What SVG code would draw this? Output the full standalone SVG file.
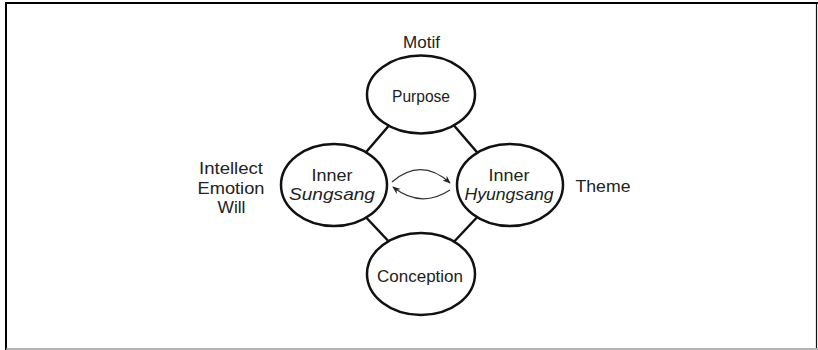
<svg xmlns="http://www.w3.org/2000/svg" width="818" height="350" viewBox="0 0 818 350">
<defs>
<style>
.frame{fill:none;stroke:#000;stroke-width:2}
.node{fill:#fff;stroke:#111;stroke-width:2.5}
.conn{stroke:#111;stroke-width:2.5;fill:none}
.arc{stroke:#333;stroke-width:1.2;fill:none}
text{font-family:"Liberation Sans",Arial,sans-serif;font-size:17px;fill:#222;text-anchor:middle}
.it{font-style:italic}
</style>
<marker id="ah" viewBox="0 0 10 10" refX="9" refY="5" markerWidth="8" markerHeight="8" markerUnits="userSpaceOnUse" orient="auto">
<path d="M0,1 L10,5 L0,9 L3,5 Z" fill="#222"/>
</marker>
</defs>
<rect width="818" height="350" fill="#fff"/>
<path class="frame" d="M6,350 V3 H818"/>
<line x1="816.5" y1="3" x2="816.5" y2="348" stroke="#111" stroke-width="1.2"/>
<line x1="6" y1="349" x2="818" y2="349" stroke="#9a9a9a" stroke-width="1.5"/>
<g id="connectors">
<line class="conn" x1="392" y1="122" x2="361" y2="158"/>
<line class="conn" x1="451" y1="122" x2="482" y2="158"/>
<line class="conn" x1="361" y1="212" x2="393" y2="246"/>
<line class="conn" x1="482" y1="212" x2="450" y2="246"/>
<path class="arc" d="M392,182 Q421,157 450,183" marker-end="url(#ah)"/>
<path class="arc" d="M450,190 Q421,209 393,187" marker-end="url(#ah)"/>
</g>
<g id="motif"><text x="421.5" y="48" textLength="37" lengthAdjust="spacingAndGlyphs">Motif</text></g>
<g id="purpose">
<ellipse class="node" cx="421" cy="94.5" rx="54" ry="39"/>
<text x="421" y="102" textLength="58" lengthAdjust="spacingAndGlyphs">Purpose</text>
</g>
<g id="sungsang">
<ellipse class="node" cx="334" cy="185" rx="53" ry="41"/>
<text x="332" y="181" textLength="41" lengthAdjust="spacingAndGlyphs">Inner</text>
<text class="it" x="332" y="200" textLength="86" lengthAdjust="spacingAndGlyphs">Sungsang</text>
</g>
<g id="hyungsang">
<ellipse class="node" cx="510" cy="185" rx="53" ry="41"/>
<text x="509" y="181" textLength="41" lengthAdjust="spacingAndGlyphs">Inner</text>
<text class="it" x="509" y="200" textLength="89" lengthAdjust="spacingAndGlyphs">Hyungsang</text>
</g>
<g id="conception">
<ellipse class="node" cx="421" cy="274" rx="54" ry="41"/>
<text x="420" y="282" textLength="86" lengthAdjust="spacingAndGlyphs">Conception</text>
</g>
<g id="faculties">
<text x="231" y="174" textLength="64" lengthAdjust="spacingAndGlyphs">Intellect</text>
<text x="231" y="194" textLength="67" lengthAdjust="spacingAndGlyphs">Emotion</text>
<text x="231.5" y="213" textLength="28" lengthAdjust="spacingAndGlyphs">Will</text>
</g>
<g id="theme"><text x="603" y="192" textLength="55" lengthAdjust="spacingAndGlyphs">Theme</text></g>
</svg>
